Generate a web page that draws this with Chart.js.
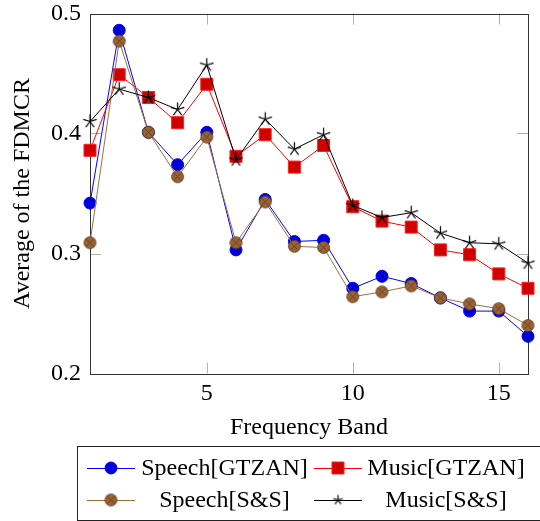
<!DOCTYPE html>
<html>
<head>
<meta charset="utf-8">
<script src="https://cdn.jsdelivr.net/npm/chart.js@4.4.1/dist/chart.umd.min.js"></script>
<style>
  html, body { margin: 0; padding: 0; background: #fff; }
  #wrap { width: 540px; height: 521px; }
</style>
</head>
<body>
<div id="wrap"><canvas id="fdmcr"></canvas></div>
<script>
// values
const bands = [1, 2, 3, 4, 5, 6, 7, 8, 9, 10, 11, 12, 13, 14, 15, 16];
const speechGtzan = [0.342, 0.486, 0.401, 0.374, 0.401, 0.303, 0.345, 0.310, 0.311, 0.271, 0.281, 0.275, 0.263, 0.252, 0.252, 0.231];
const musicGtzan  = [0.386, 0.449, 0.430, 0.409, 0.441, 0.381, 0.399, 0.372, 0.390, 0.339, 0.327, 0.322, 0.303, 0.299, 0.283, 0.271];
const speechSS    = [0.309, 0.477, 0.401, 0.364, 0.397, 0.309, 0.343, 0.306, 0.305, 0.264, 0.268, 0.273, 0.263, 0.258, 0.254, 0.240];
const musicSS     = [0.410, 0.437, 0.430, 0.420, 0.457, 0.378, 0.412, 0.387, 0.399, 0.340, 0.330, 0.334, 0.317, 0.309, 0.308, 0.292];
const xTicks = [5, 10, 15];
const yTicks = [0.2, 0.3, 0.4, 0.5];

const FONT = 'Liberation Serif, Times New Roman, serif';

// brown circle with an x inside
function makeOplusX() {
    const c = document.createElement('canvas');
    c.width = 15; c.height = 15;
    const g = c.getContext('2d');
    const r = 6;
    g.beginPath();
    g.arc(7.5, 7.5, r, 0, Math.PI * 2);
    g.fillStyle = '#9a6333';
    g.fill();
    g.lineWidth = 0.8;
    g.strokeStyle = '#5a3a1c';
    g.stroke();
    const d = r * Math.SQRT1_2;
    g.beginPath();
    g.moveTo(7.5 - d, 7.5 - d); g.lineTo(7.5 + d, 7.5 + d);
    g.moveTo(7.5 + d, 7.5 - d); g.lineTo(7.5 - d, 7.5 + d);
    g.stroke();
    return c;
}

// five armed star, pgfplots style
function makeStar(r) {
    const s = Math.ceil(r * 2 + 3);
    const c = document.createElement('canvas');
    c.width = s; c.height = s;
    const g = c.getContext('2d');
    g.strokeStyle = '#000';
    g.lineWidth = 1.2;
    g.beginPath();
    for (let i = 0; i < 5; i++) {
        const a = -Math.PI / 2 + i * 2 * Math.PI / 5;
        g.moveTo(s / 2, s / 2);
        g.lineTo(s / 2 + r * Math.cos(a), s / 2 + r * Math.sin(a));
    }
    g.stroke();
    return c;
}

const brownMark = makeOplusX();
const starMark = makeStar(7);
const starSmall = makeStar(5);

const toXY = vals => vals.map((v, i) => ({ x: bands[i], y: v }));

const datasets = [
    {
        label: 'Speech[GTZAN]', data: toXY(speechGtzan), order: 4,
        borderColor: '#0000ff', borderWidth: 1,
        pointStyle: 'circle', pointRadius: 6, pointBackgroundColor: '#0000d6', pointBorderColor: '#0000ff', pointBorderWidth: 1
    },
    {
        label: 'Music[GTZAN]', data: toXY(musicGtzan), order: 3,
        borderColor: '#ff0000', borderWidth: 1,
        pointStyle: 'rect', pointRadius: 8.5, pointBackgroundColor: '#d00000', pointBorderColor: '#ff2020', pointBorderWidth: 1
    },
    {
        label: 'Speech[S&S]', data: toXY(speechSS), order: 2,
        borderColor: '#a0703a', borderWidth: 1,
        pointStyle: brownMark, pointRadius: 6
    },
    {
        label: 'Music[S&S]', data: toXY(musicSS), order: 1,
        borderColor: '#000000', borderWidth: 1,
        pointStyle: starMark, pointRadius: 7
    }
];

// frame + inward ticks on all four sides
const framePlugin = {
    id: 'frame',
    beforeDatasetsDraw(chart) {
        const { ctx, chartArea: a, scales } = chart;
        ctx.save();
        ctx.strokeStyle = '#b0b0b0';
        ctx.lineWidth = 1;
        const t = 11;
        ctx.beginPath();
        xTicks.forEach(v => {
            const px = Math.round(scales.x.getPixelForValue(v)) + 0.5;
            ctx.moveTo(px, a.bottom); ctx.lineTo(px, a.bottom - t);
            ctx.moveTo(px, a.top); ctx.lineTo(px, a.top + t);
        });
        yTicks.forEach(v => {
            const py = Math.round(scales.y.getPixelForValue(v)) + 0.5;
            ctx.moveTo(a.left, py); ctx.lineTo(a.left + t, py);
            ctx.moveTo(a.right, py); ctx.lineTo(a.right - t, py);
        });
        ctx.stroke();
        ctx.strokeStyle = '#333';
        ctx.strokeRect(Math.round(a.left) + 0.5, Math.round(a.top) + 0.5,
            Math.round(a.right - a.left), Math.round(a.bottom - a.top));
        ctx.restore();
    }
};

// boxed two-column legend under the axis
const legendPlugin = {
    id: 'boxLegend',
    afterDraw(chart) {
        const ctx = chart.ctx;
        const bx = 77, by = 446, bw = 470, bh = 74;
        ctx.save();
        ctx.strokeStyle = '#222';
        ctx.lineWidth = 1;
        ctx.strokeRect(bx + 0.5, by + 0.5, bw, bh);

        const cols = [
            { line: bx + 10, text0: bx + 65, text1: bx + 230 },
            { line: bx + 237, text0: bx + 292, text1: bx + 446 }
        ];
        const rows = [by + 22, by + 54];
        ctx.font = '24px ' + FONT;
        ctx.fillStyle = '#000';
        ctx.textAlign = 'center';
        ctx.textBaseline = 'middle';

        chart.data.datasets.forEach((ds, i) => {
            const col = cols[i % 2];
            const y = rows[Math.floor(i / 2)];
            ctx.strokeStyle = ds.borderColor;
            ctx.lineWidth = 1;
            ctx.beginPath();
            ctx.moveTo(col.line, y + 0.5);
            ctx.lineTo(col.line + 48, y + 0.5);
            ctx.stroke();
            const style = ds.pointStyle === starMark ? starSmall : ds.pointStyle;
            ctx.fillStyle = ds.pointBackgroundColor || '#000';
            ctx.strokeStyle = ds.pointBorderColor || ds.borderColor;
            ctx.lineWidth = ds.pointBorderWidth || 1;
            Chart.helpers.drawPoint(ctx, {
                pointStyle: style, radius: ds.pointRadius, rotation: 0, borderWidth: ds.pointBorderWidth || 1
            }, col.line + 24, y);
            ctx.fillStyle = '#000';
            ctx.fillText(ds.label, (col.text0 + col.text1) / 2, y + 1);
        });
        ctx.restore();
    }
};

new Chart(document.getElementById('fdmcr'), {
    type: 'line',
    data: { datasets: datasets },
    options: {
        responsive: true,
        maintainAspectRatio: false,
        animation: false,
        events: [],
        datasets: { line: { clip: false, tension: 0, fill: false } },
        layout: { padding: { top: 13.5, right: 12, bottom: 75, left: 0 } },
        plugins: { legend: { display: false }, tooltip: { enabled: false } },
        scales: {
            x: {
                type: 'linear', min: 1, max: 16,
                afterBuildTicks: s => { s.ticks = xTicks.map(v => ({ value: v })); },
                afterFit: s => { s.height = 72.5; s.paddingLeft = 0; s.paddingRight = 0; },
                grid: { display: false, drawTicks: false },
                border: { display: false },
                ticks: { color: '#000', padding: 6, font: { family: FONT, size: 24 } },
                title: { display: true, text: 'Frequency Band', color: '#000', padding: { top: 0, bottom: 4 }, font: { family: FONT, size: 24 } }
            },
            y: {
                min: 0.2, max: 0.5,
                afterBuildTicks: s => { s.ticks = yTicks.map(v => ({ value: v })); },
                afterFit: s => { s.width = 90; s.paddingTop = 0; s.paddingBottom = 0; },
                grid: { display: false, drawTicks: false },
                border: { display: false },
                ticks: { color: '#000', padding: 9, callback: v => v.toFixed(1), font: { family: FONT, size: 24 } },
                title: { display: true, text: 'Average of the FDMCR', color: '#000', padding: { top: 8, bottom: 0 }, font: { family: FONT, size: 24 } }
            }
        }
    },
    plugins: [framePlugin, legendPlugin]
});
</script>
</body>
</html>
